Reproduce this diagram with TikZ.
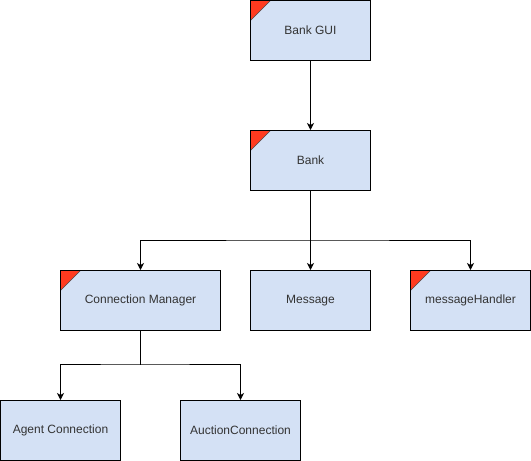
\documentclass[tikz,border=0pt]{standalone}
\usepackage{fontspec}
\setmainfont{Liberation Sans}
\usetikzlibrary{arrows.meta}
\definecolor{boxfill}{HTML}{D4E1F5}
\definecolor{txt}{HTML}{333333}
\definecolor{flag}{HTML}{FF3A1F}
\begin{document}
\begin{tikzpicture}[x=1pt,y=-1pt,
  cls/.style={draw=black, fill=boxfill, line width=1pt, minimum width=120pt, minimum height=60pt,
    inner sep=0pt, anchor=north west, text=txt, font=\fontsize{12}{14}\selectfont},
  flagged/.style={path picture={
    \fill[flag, draw=black!70, line width=0.4pt] (path picture bounding box.north west) -- ++(20pt,0) -- ++(-20pt,-20pt) -- cycle;}},
  conn/.style={draw=black, line width=1pt, -{Stealth[length=7pt,width=7pt,inset=2pt]}}]
\useasboundingbox (0,0) rectangle (531,461);
\node[cls, flagged] (gui) at (250,0) {Bank GUI};
\node[cls, flagged] (bank) at (250,130) {Bank};
\node[cls, flagged, minimum width=160pt] (cm) at (60,270) {Connection Manager};
\node[cls] (msg) at (250,270) {Message};
\node[cls, flagged] (mh) at (410,270) {messageHandler};
\node[cls] (agent) at (0,400) {Agent Connection};
\node[cls] (auction) at (180,400) {AuctionConnection};
\coordinate (j1) at (310,240);
\coordinate (j2) at (140,364);
\draw[conn] (gui) -- (bank);
\draw[conn] (bank.south) |- (j1) -| (cm.north);
\draw[conn] (bank) -- (msg);
\draw[conn] (bank.south) |- (j1) -| (mh.north);
\draw[conn] (cm.south) |- (j2) -| (agent.north);
\draw[conn] (cm.south) |- (j2) -| (auction.north);
\end{tikzpicture}
\end{document}
